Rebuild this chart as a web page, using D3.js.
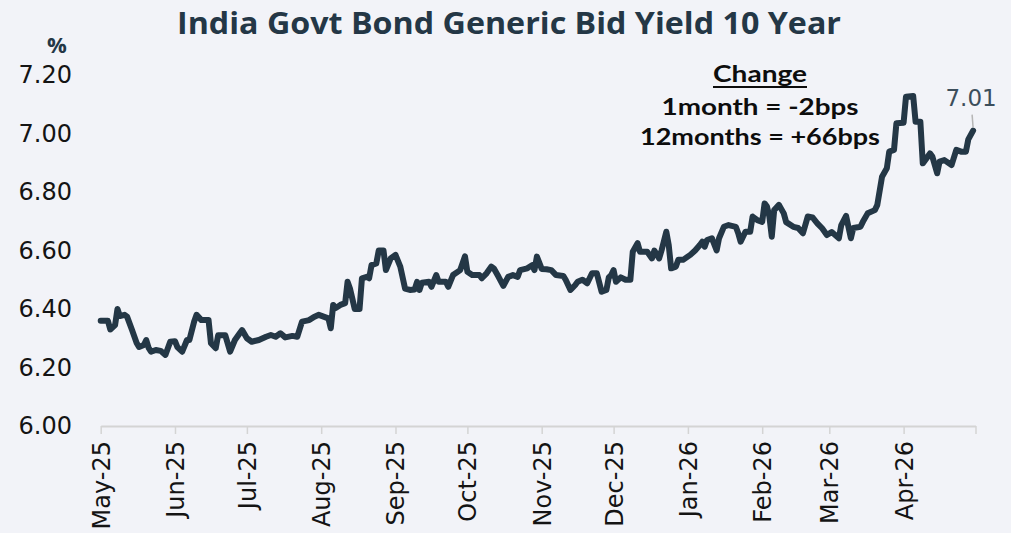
<!DOCTYPE html>
<html>
<head>
<meta charset="utf-8">
<script src="https://cdn.jsdelivr.net/npm/d3@7"></script>
<style>
  html, body { margin: 0; padding: 0; background: #f2f3f8; }
  svg { display: block; }
</style>
</head>
<body>
<div id="chart"></div>
<script>
const title = "India Govt Bond Generic Bid Yield 10 Year";
const unitLabel = "%";

const dates = [
  "2025-05-01","2025-05-04","2025-05-05","2025-05-07","2025-05-08","2025-05-09","2025-05-11","2025-05-12","2025-05-14","2025-05-16",
  "2025-05-17","2025-05-19","2025-05-20","2025-05-21","2025-05-22","2025-05-24","2025-05-26","2025-05-28","2025-05-30",
  "2025-06-01","2025-06-02","2025-06-04","2025-06-06","2025-06-07","2025-06-09","2025-06-10","2025-06-12","2025-06-15","2025-06-16",
  "2025-06-18","2025-06-19","2025-06-22","2025-06-24","2025-06-26","2025-06-28","2025-06-29",
  "2025-07-01","2025-07-03","2025-07-06","2025-07-09","2025-07-11","2025-07-13","2025-07-15","2025-07-17","2025-07-20","2025-07-22",
  "2025-07-24","2025-07-27","2025-07-29","2025-07-31",
  "2025-08-02","2025-08-04","2025-08-05","2025-08-06","2025-08-07","2025-08-09","2025-08-11","2025-08-12","2025-08-13","2025-08-15",
  "2025-08-17","2025-08-18","2025-08-20","2025-08-21","2025-08-22","2025-08-24","2025-08-25","2025-08-27","2025-08-28","2025-08-30",
  "2025-09-01","2025-09-03","2025-09-05","2025-09-07","2025-09-09","2025-09-10","2025-09-11","2025-09-12","2025-09-15","2025-09-16",
  "2025-09-18","2025-09-19","2025-09-22","2025-09-23","2025-09-25","2025-09-28","2025-09-30",
  "2025-10-01","2025-10-03","2025-10-06","2025-10-07","2025-10-09","2025-10-11","2025-10-12","2025-10-14","2025-10-16","2025-10-18",
  "2025-10-20","2025-10-22","2025-10-23","2025-10-26","2025-10-28","2025-10-29","2025-10-30",
  "2025-11-01","2025-11-03","2025-11-05","2025-11-07","2025-11-10","2025-11-11","2025-11-13","2025-11-15","2025-11-16","2025-11-18",
  "2025-11-20","2025-11-22","2025-11-24","2025-11-26","2025-11-28","2025-11-29","2025-11-30",
  "2025-12-01","2025-12-02","2025-12-04","2025-12-06","2025-12-08","2025-12-09","2025-12-11","2025-12-12","2025-12-15","2025-12-17",
  "2025-12-18","2025-12-20","2025-12-21","2025-12-23","2025-12-24","2025-12-25","2025-12-27","2025-12-28","2025-12-30",
  "2026-01-02","2026-01-04","2026-01-06","2026-01-07","2026-01-08","2026-01-09","2026-01-11","2026-01-13","2026-01-14","2026-01-16",
  "2026-01-18","2026-01-21","2026-01-22","2026-01-23","2026-01-25","2026-01-27","2026-01-28","2026-01-30",
  "2026-02-01","2026-02-02","2026-02-03","2026-02-04","2026-02-05","2026-02-06","2026-02-08","2026-02-10","2026-02-11","2026-02-14",
  "2026-02-16","2026-02-18","2026-02-20","2026-02-22","2026-02-24","2026-02-26","2026-02-28",
  "2026-03-02","2026-03-05","2026-03-06","2026-03-08","2026-03-10","2026-03-11","2026-03-14","2026-03-15","2026-03-17","2026-03-20",
  "2026-03-21","2026-03-23","2026-03-25","2026-03-26","2026-03-28","2026-03-29",
  "2026-04-01","2026-04-02","2026-04-05","2026-04-06","2026-04-08","2026-04-09","2026-04-10","2026-04-12","2026-04-13","2026-04-15",
  "2026-04-16","2026-04-18","2026-04-21","2026-04-23","2026-04-25","2026-04-27","2026-04-28","2026-04-30"
];

const yields = [
  6.36,6.36,6.33,6.345,6.40,6.376,6.38,6.374,6.33,6.284,
  6.27,6.277,6.294,6.267,6.254,6.26,6.257,6.243,6.288,
  6.29,6.27,6.254,6.294,6.294,6.357,6.38,6.362,6.362,6.283,
  6.266,6.31,6.31,6.254,6.294,6.317,6.328,
  6.30,6.288,6.294,6.305,6.311,6.305,6.317,6.303,6.308,6.305,
  6.357,6.362,6.373,6.38,
  6.374,6.368,6.334,6.414,6.403,6.414,6.42,6.493,6.47,6.40,
  6.40,6.505,6.51,6.505,6.55,6.556,6.60,6.60,6.533,6.573,
  6.585,6.545,6.47,6.465,6.467,6.493,6.465,6.49,6.493,6.476,
  6.516,6.493,6.493,6.476,6.516,6.533,6.58,
  6.527,6.516,6.516,6.505,6.522,6.545,6.539,6.51,6.479,6.51,
  6.516,6.51,6.533,6.539,6.55,6.533,6.579,
  6.537,6.536,6.533,6.516,6.513,6.50,6.465,6.482,6.493,6.50,
  6.488,6.522,6.522,6.459,6.465,6.508,6.516,
  6.533,6.493,6.508,6.50,6.50,6.596,6.625,6.596,6.596,6.573,
  6.60,6.573,6.60,6.664,6.619,6.539,6.545,6.568,6.568,
  6.585,6.60,6.619,6.63,6.613,6.636,6.642,6.60,6.642,6.681,
  6.687,6.681,6.659,6.63,6.664,6.664,6.716,6.704,
  6.698,6.761,6.75,6.716,6.647,6.738,6.756,6.727,6.697,6.681,
  6.677,6.659,6.716,6.713,6.693,6.676,6.653,
  6.663,6.642,6.687,6.718,6.642,6.677,6.681,6.698,6.727,6.738,
  6.755,6.852,6.881,6.938,6.944,7.035,
  7.037,7.126,7.128,7.04,7.04,6.898,6.909,6.932,6.921,6.864,
  6.904,6.909,6.892,6.944,6.938,6.938,6.98,7.01
];

const yTicks = [6.00, 6.20, 6.40, 6.60, 6.80, 7.00, 7.20];
const monthTicks = ["2025-05-01","2025-06-01","2025-07-01","2025-08-01","2025-09-01","2025-10-01",
  "2025-11-01","2025-12-01","2026-01-01","2026-02-01","2026-03-01","2026-04-01","2026-05-01"];
const annotationLines = ["Change", "1month = -2bps", "12months = +66bps"];
const lastLabel = "7.01";

const W = 1011, H = 533;
const margin = { top: 75, right: 35.5, bottom: 107, left: 100.7 };
const width = W - margin.left - margin.right;
const height = H - margin.top - margin.bottom;

const parse = d3.timeParse("%Y-%m-%d");
const data = dates.map((d, i) => ({ date: parse(d), value: yields[i] }));
const ticks = monthTicks.map(parse);

const svg = d3.select("#chart")
    .append("svg")
    .attr("width", W)
    .attr("height", H);

svg.append("rect")
    .attr("width", W)
    .attr("height", H)
    .attr("fill", "#f2f3f8");

const g = svg.append("g")
    .attr("transform", `translate(${margin.left},${margin.top})`);

const x = d3.scaleTime()
    .domain([ticks[0], ticks[ticks.length - 1]])
    .range([0, width]);

const y = d3.scaleLinear()
    .domain([6.0, 7.2])
    .range([height, 0]);

// title
svg.append("text")
    .attr("x", 509)
    .attr("y", 34)
    .attr("text-anchor", "middle")
    .attr("font-family", "'Liberation Sans Narrow', 'Open Sans', sans-serif")
    .attr("font-weight", "bold")
    .attr("font-size", 30)
    .attr("fill", "#243746")
    .attr("textLength", 664)
    .attr("lengthAdjust", "spacingAndGlyphs")
    .text(title);

svg.append("text")
    .attr("x", 57)
    .attr("y", 53)
    .attr("text-anchor", "middle")
    .attr("font-family", "'Liberation Sans Narrow', 'Open Sans', sans-serif")
    .attr("font-weight", "bold")
    .attr("font-size", 22)
    .attr("fill", "#243746")
    .text(unitLabel);

// y axis labels only
const yAxis = g.append("g")
    .call(d3.axisLeft(y).tickValues(yTicks).tickFormat(d3.format(".2f")).tickSize(0).tickPadding(28.7));
yAxis.select(".domain").remove();
yAxis.selectAll("text")
    .attr("font-family", "'DejaVu Sans', sans-serif")
    .attr("font-size", 24)
    .attr("fill", "#141414");

// x axis
const xAxis = g.append("g")
    .attr("transform", `translate(0,${height})`)
    .call(d3.axisBottom(x).tickValues(ticks).tickFormat(d3.timeFormat("%b-%y")).tickSizeInner(8).tickSizeOuter(0));
xAxis.select(".domain").attr("stroke", "#d4d4d4").attr("stroke-width", 2);
xAxis.selectAll(".tick line").attr("stroke", "#d4d4d4").attr("stroke-width", 1.5);
xAxis.selectAll("text")
    .attr("font-family", "'DejaVu Sans', sans-serif")
    .attr("font-size", 24)
    .attr("fill", "#141414")
    .attr("text-anchor", "end")
    .attr("transform", "rotate(-90)")
    .attr("x", -15)
    .attr("y", 0)
    .attr("dy", "0.35em")
    .filter((d, i) => i === ticks.length - 1).remove();

// line
const line = d3.line()
    .x(d => x(d.date))
    .y(d => y(d.value));

g.append("path")
    .datum(data)
    .attr("fill", "none")
    .attr("stroke", "#243746")
    .attr("stroke-width", 6)
    .attr("stroke-linejoin", "round")
    .attr("stroke-linecap", "round")
    .attr("d", line);

// last value label
const last = data[data.length - 1];
g.append("line")
    .attr("x1", x(last.date))
    .attr("y1", y(last.value) - 3)
    .attr("x2", x(last.date) - 1)
    .attr("y2", y(last.value) - 16)
    .attr("stroke", "#b5b5b5")
    .attr("stroke-width", 1.5);

g.append("text")
    .attr("x", x(last.date) - 2)
    .attr("y", y(last.value) - 25)
    .attr("text-anchor", "middle")
    .attr("font-family", "'DejaVu Sans', sans-serif")
    .attr("font-size", 23)
    .attr("fill", "#3c4e5b")
    .text(lastLabel);

// change annotation
const ann = svg.append("g")
    .attr("font-family", "'Lato', 'Open Sans', sans-serif")
    .attr("font-weight", "bold")
    .attr("font-size", 22)
    .attr("fill", "#0d0d0d")
    .attr("text-anchor", "middle");

const annY = [82, 115, 145];
const annW = [94, 197, 240];
annotationLines.forEach((t, i) => {
    ann.append("text")
        .attr("x", 760)
        .attr("y", annY[i])
        .attr("textLength", annW[i])
        .attr("lengthAdjust", "spacingAndGlyphs")
        .text(t);
});
ann.append("line")
    .attr("x1", 713)
    .attr("x2", 807)
    .attr("y1", 87)
    .attr("y2", 87)
    .attr("stroke", "#0d0d0d")
    .attr("stroke-width", 2);
</script>
</body>
</html>
